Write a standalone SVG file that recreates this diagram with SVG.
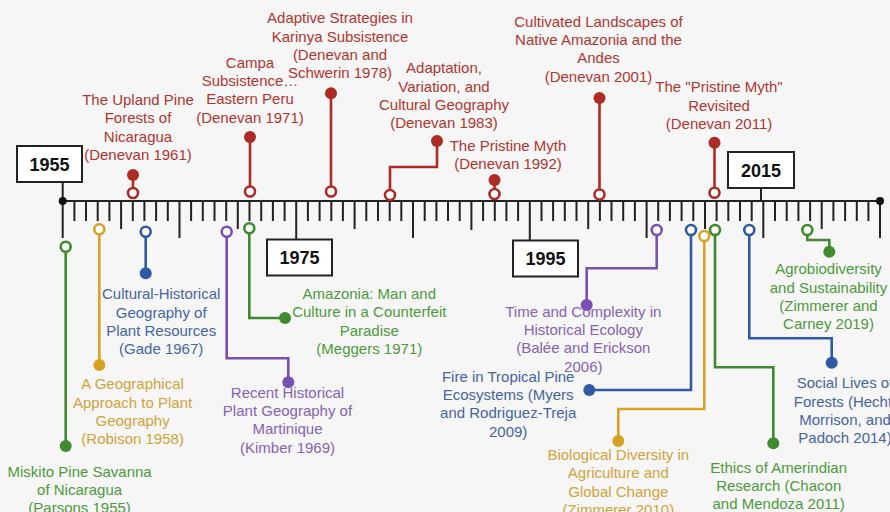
<svg xmlns="http://www.w3.org/2000/svg" width="890" height="512" viewBox="0 0 890 512">
<style>
text{font-family:"Liberation Sans",Arial,sans-serif;font-size:15px;text-anchor:middle}
.yr{font-size:18px;font-weight:bold;fill:#111}
.box{fill:#fff;stroke:#222;stroke-width:2}
.tk{stroke:#222;stroke-width:2;fill:none}
.c{fill:none;stroke-width:2.6;stroke-linejoin:miter}
.h{fill:#fff;stroke-width:2.6}
.r{stroke:#ad2a25}.rf{fill:#ad2a25}.rt{fill:#b2352f}
.g{stroke:#3f8a2f}.gf{fill:#3f8a2f}.gt{fill:#4c9a3b}
.o{stroke:#d8a225}.of{fill:#d8a225}.ot{fill:#d2a23a}
.p{stroke:#7a4fb3}.pf{fill:#7a4fb3}.pt{fill:#8563b4}
.b{stroke:#2f5aa3}.bf{fill:#2f5aa3}.bt{fill:#4465a2}
</style>
<rect width="890" height="512" fill="#f6f6f6"/>
<g id="axis">
<line class="tk" x1="62.7" y1="201" x2="880" y2="201"/>
<path class="tk" d="M74.4 201V221M86 201V221M97.7 201V221M109.4 201V221M121.1 201V229M132.8 201V221M144.4 201V221M156.1 201V221M167.8 201V221M179.5 201V238M191.1 201V221M202.8 201V221M214.5 201V221M226.2 201V221M237.8 201V229M249.5 201V221M261.2 201V221M272.9 201V221M284.6 201V221M296.2 201V240M307.9 201V221M319.6 201V221M331.3 201V221M342.9 201V221M354.6 201V229M366.3 201V221M378 201V221M389.7 201V221M401.3 201V221M413 201V238M424.7 201V221M436.4 201V221M448 201V221M459.7 201V221M471.4 201V230M483.1 201V221M494.8 201V221M506.4 201V221M518.1 201V221M529.8 201V240M541.5 201V221M553.1 201V221M564.8 201V221M576.5 201V221M588.2 201V229M599.9 201V221M611.5 201V221M623.2 201V221M634.9 201V221M646.6 201V238M658.2 201V221M669.9 201V221M681.6 201V221M693.3 201V221M705 201V229M716.6 201V221M728.3 201V221M740 201V221M751.7 201V221M763.3 201V238M775 201V221M786.7 201V221M798.4 201V221M810.1 201V221M821.7 201V229M833.4 201V221M845.1 201V221M856.8 201V221M868.4 201V221M880 201V238M62.7 182V238M761 188V201"/>
<circle cx="62.7" cy="201" r="4" fill="#111"/>
<circle cx="880" cy="201" r="4" fill="#111"/>
</g>
<g id="y1955"><rect class="box" x="17" y="146" width="65" height="36"/><text class="yr" x="49.5" y="170.5">1955</text></g>
<g id="y1975"><rect class="box" x="267" y="239.5" width="65" height="36"/><text class="yr" x="299.5" y="264">1975</text></g>
<g id="y1995"><rect class="box" x="513" y="240.5" width="65" height="36"/><text class="yr" x="545.5" y="265">1995</text></g>
<g id="y2015"><rect class="box" x="728" y="152" width="66" height="36"/><text class="yr" x="761" y="176.5">2015</text></g>
<g id="connectors">
<path class="c r" d="M133 193V175"/>
<path class="c r" d="M250 191.5V137"/>
<path class="c r" d="M331 191.5V93.3"/>
<path class="c r" d="M390 195V167H437V141"/>
<path class="c r" d="M494.5 194V180"/>
<path class="c r" d="M599.5 194.5V98"/>
<path class="c r" d="M714.5 192.7V142.7"/>
<path class="c g" d="M65.7 246.7V446"/>
<path class="c o" d="M99.3 229.3V365"/>
<path class="c b" d="M145.7 231.7V273.3"/>
<path class="c p" d="M226.7 231.7V358.3H288.3V382.3"/>
<path class="c g" d="M249.3 228.3V318H285"/>
<path class="c p" d="M656.7 230V268.3H586.7V305"/>
<path class="c b" d="M691 230V390H589.3"/>
<path class="c o" d="M704.3 236V409H618.3V441"/>
<path class="c g" d="M715 230V367.3H773.3V443.3"/>
<path class="c b" d="M749.3 230V338.3H831.7V362.7"/>
<path class="c g" d="M807.3 230V240H829.3V251.7"/>
</g>
<g id="e1961"><circle class="h r" cx="133" cy="193" r="5"/><circle class="rf" cx="133" cy="175" r="6"/>
<text class="rt" x="138" y="105">The Upland Pine</text><text class="rt" x="138" y="123.3">Forests of</text><text class="rt" x="138" y="141.6">Nicaragua</text><text class="rt" x="138" y="159.9">(Denevan 1961)</text></g>
<g id="e1971a"><circle class="h r" cx="250" cy="191.5" r="5"/><circle class="rf" cx="250" cy="137" r="6"/>
<text class="rt" x="250" y="67.7">Campa</text><text class="rt" x="250" y="86">Subsistence…</text><text class="rt" x="250" y="104.3">Eastern Peru</text><text class="rt" x="250" y="122.6">(Denevan 1971)</text></g>
<g id="e1978"><circle class="h r" cx="331" cy="191.5" r="5"/><circle class="rf" cx="331" cy="93.3" r="6"/>
<text class="rt" x="340" y="23.3">Adaptive Strategies in</text><text class="rt" x="340" y="41.6">Karinya Subsistence</text><text class="rt" x="340" y="59.9">(Denevan and</text><text class="rt" x="340" y="78.2">Schwerin 1978)</text></g>
<g id="e1983"><circle class="h r" cx="390" cy="195" r="5"/><circle class="rf" cx="437" cy="141" r="6"/>
<text class="rt" x="444" y="73.3">Adaptation,</text><text class="rt" x="444" y="91.6">Variation, and</text><text class="rt" x="444" y="109.9">Cultural Geography</text><text class="rt" x="444" y="128.2">(Denevan 1983)</text></g>
<g id="e1992"><circle class="h r" cx="494.5" cy="194" r="5"/><circle class="rf" cx="494.5" cy="180" r="6"/>
<text class="rt" x="508" y="150.7">The Pristine Myth</text><text class="rt" x="508" y="169">(Denevan 1992)</text></g>
<g id="e2001"><circle class="h r" cx="599.5" cy="194.5" r="5"/><circle class="rf" cx="599.5" cy="98" r="6"/>
<text class="rt" x="598.5" y="26.7">Cultivated Landscapes of</text><text class="rt" x="598.5" y="45">Native Amazonia and the</text><text class="rt" x="598.5" y="63.3">Andes</text><text class="rt" x="598.5" y="81.6">(Denevan 2001)</text></g>
<g id="e2011a"><circle class="h r" cx="714.5" cy="192.7" r="5"/><circle class="rf" cx="714.5" cy="142.7" r="6"/>
<text class="rt" x="719" y="92.3">The "Pristine Myth"</text><text class="rt" x="719" y="110.6">Revisited</text><text class="rt" x="719" y="128.9">(Denevan 2011)</text></g>
<g id="e1955"><circle class="h g" cx="65.7" cy="246.7" r="5"/><circle class="gf" cx="65.7" cy="446" r="6"/>
<text class="gt" x="79.6" y="476.7">Miskito Pine Savanna</text><text class="gt" x="79.6" y="495">of Nicaragua</text><text class="gt" x="79.6" y="513.3">(Parsons 1955)</text></g>
<g id="e1958"><circle class="h o" cx="99.3" cy="229.3" r="5"/><circle class="of" cx="99.3" cy="365" r="6"/>
<text class="ot" x="132.6" y="389.3">A Geographical</text><text class="ot" x="132.6" y="407.6">Approach to Plant</text><text class="ot" x="132.6" y="425.9">Geography</text><text class="ot" x="132.6" y="444.2">(Robison 1958)</text></g>
<g id="e1967"><circle class="h b" cx="145.7" cy="231.7" r="5"/><circle class="bf" cx="145.7" cy="273.3" r="6"/>
<text class="bt" x="161.2" y="299.3">Cultural-Historical</text><text class="bt" x="161.2" y="317.6">Geography of</text><text class="bt" x="161.2" y="335.9">Plant Resources</text><text class="bt" x="161.2" y="354.2">(Gade 1967)</text></g>
<g id="e1969"><circle class="h p" cx="226.7" cy="231.7" r="5"/><circle class="pf" cx="288.3" cy="382.3" r="6"/>
<text class="pt" x="287.5" y="397.7">Recent Historical</text><text class="pt" x="287.5" y="416">Plant Geography of</text><text class="pt" x="287.5" y="434.3">Martinique</text><text class="pt" x="287.5" y="452.6">(Kimber 1969)</text></g>
<g id="e1971b"><circle class="h g" cx="249.3" cy="228.3" r="5"/><circle class="gf" cx="285" cy="318" r="6"/>
<text class="gt" x="369.3" y="299">Amazonia: Man and</text><text class="gt" x="369.3" y="317.3">Culture in a Counterfeit</text><text class="gt" x="369.3" y="335.6">Paradise</text><text class="gt" x="369.3" y="353.9">(Meggers 1971)</text></g>
<g id="e2006"><circle class="h p" cx="656.7" cy="230" r="5"/><circle class="pf" cx="586.7" cy="305" r="6"/>
<text class="pt" x="583.3" y="316.7">Time and Complexity in</text><text class="pt" x="583.3" y="335">Historical Ecology</text><text class="pt" x="583.3" y="353.3">(Balée and Erickson</text><text class="pt" x="583.3" y="371.6">2006)</text></g>
<g id="e2009"><circle class="h b" cx="691" cy="230" r="5"/><circle class="bf" cx="589.3" cy="390" r="6"/>
<text class="bt" x="508.2" y="381.7">Fire in Tropical Pine</text><text class="bt" x="508.2" y="400">Ecosystems (Myers</text><text class="bt" x="508.2" y="418.3">and Rodriguez-Treja</text><text class="bt" x="508.2" y="436.6">2009)</text></g>
<g id="e2010"><circle class="h o" cx="704.3" cy="236" r="5"/><circle class="of" cx="618.3" cy="441" r="6"/>
<text class="ot" x="618.3" y="460">Biological Diversity in</text><text class="ot" x="618.3" y="478.3">Agriculture and</text><text class="ot" x="618.3" y="496.6">Global Change</text><text class="ot" x="618.3" y="514.9">(Zimmerer 2010)</text></g>
<g id="e2011b"><circle class="h g" cx="715" cy="230" r="5"/><circle class="gf" cx="773.3" cy="443.3" r="6"/>
<text class="gt" x="778.7" y="472.7">Ethics of Amerindian</text><text class="gt" x="778.7" y="490.9">Research (Chacon</text><text class="gt" x="778.7" y="509.1">and Mendoza 2011)</text></g>
<g id="e2014"><circle class="h b" cx="749.3" cy="230" r="5"/><circle class="bf" cx="831.7" cy="362.7" r="6"/>
<text class="bt" x="845" y="388.3">Social Lives of</text><text class="bt" x="845" y="406.6">Forests (Hecht,</text><text class="bt" x="845" y="424.9">Morrison, and</text><text class="bt" x="845" y="443.2">Padoch 2014)</text></g>
<g id="e2019"><circle class="h g" cx="807.3" cy="230" r="5"/><circle class="gf" cx="829.3" cy="251.7" r="6"/>
<text class="gt" x="828.5" y="274.3">Agrobiodiversity</text><text class="gt" x="828.5" y="292.6">and Sustainability</text><text class="gt" x="828.5" y="310.9">(Zimmerer and</text><text class="gt" x="828.5" y="329.2">Carney 2019)</text></g>
</svg>
